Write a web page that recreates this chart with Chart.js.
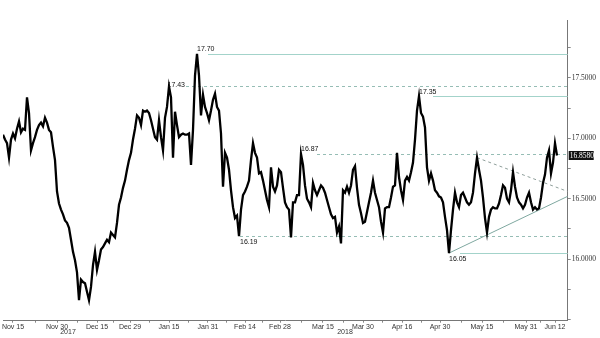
<!DOCTYPE html>
<html>
<head>
<meta charset="utf-8">
<script src="https://cdn.jsdelivr.net/npm/chart.js@4.4.1/dist/chart.umd.min.js"></script>
<style>
  html, body { margin: 0; padding: 0; background: #fff; }
  #wrap { width: 600px; height: 338px; }
</style>
</head>
<body>
<div id="wrap"><canvas id="chart"></canvas></div>
<script>
// one value every half session, Nov 10 2017 -> Jun 13 2018
const prices = [
  17.03, 16.99, 16.96, 16.84, 16.99, 17.04, 17.00, 17.08, 17.14, 17.05,
  17.08, 17.07, 17.34, 17.21, 16.90, 16.96, 17.01, 17.07, 17.11, 17.13,
  17.10, 17.17, 17.13, 17.07, 17.05, 16.93, 16.82, 16.56, 16.46, 16.41,
  16.37, 16.32, 16.30, 16.26, 16.16, 16.06, 15.99, 15.89, 15.66, 15.83,
  15.81, 15.80, 15.73, 15.66, 15.77, 15.95, 16.06, 15.91, 15.99, 16.08,
  16.10, 16.13, 16.16, 16.14, 16.22, 16.20, 16.18, 16.30, 16.45, 16.51,
  16.59, 16.65, 16.74, 16.82, 16.88, 16.99, 17.08, 17.19, 17.17, 17.11,
  17.23, 17.22, 17.23, 17.21, 17.15, 17.08, 17.01, 16.99, 17.15, 17.01,
  16.90, 17.17, 17.26, 17.43, 17.34, 16.84, 17.22, 17.11, 17.01, 17.03,
  17.04, 17.03, 17.03, 17.04, 16.78, 17.07, 17.52, 17.70, 17.52, 17.19,
  17.36, 17.26, 17.21, 17.15, 17.23, 17.32, 17.37, 17.26, 17.23, 17.04,
  16.60, 16.88, 16.84, 16.74, 16.57, 16.43, 16.34, 16.36, 16.19, 16.41,
  16.53, 16.56, 16.60, 16.65, 16.82, 16.96, 16.88, 16.84, 16.71, 16.72,
  16.65, 16.57, 16.49, 16.43, 16.76, 16.60, 16.56, 16.61, 16.74, 16.72,
  16.59, 16.47, 16.43, 16.41, 16.18, 16.47, 16.47, 16.53, 16.53, 16.87,
  16.78, 16.61, 16.50, 16.47, 16.43, 16.63, 16.57, 16.53, 16.57, 16.61,
  16.59, 16.55, 16.49, 16.43, 16.37, 16.34, 16.35, 16.22, 16.27, 16.13,
  16.57, 16.55, 16.60, 16.55, 16.61, 16.74, 16.77, 16.59, 16.45, 16.38,
  16.30, 16.31, 16.39, 16.47, 16.55, 16.65, 16.55, 16.49, 16.43, 16.31,
  16.22, 16.42, 16.43, 16.43, 16.51, 16.60, 16.61, 16.88, 16.68, 16.57,
  16.49, 16.65, 16.68, 16.65, 16.72, 16.80, 16.99, 17.23, 17.35, 17.21,
  17.18, 17.09, 16.76, 16.65, 16.71, 16.65, 16.57, 16.55, 16.52, 16.51,
  16.47, 16.35, 16.24, 16.05, 16.24, 16.41, 16.55, 16.47, 16.43, 16.53,
  16.55, 16.51, 16.47, 16.45, 16.47, 16.55, 16.71, 16.84, 16.74, 16.65,
  16.51, 16.34, 16.22, 16.35, 16.41, 16.43, 16.42, 16.42, 16.46, 16.53,
  16.61, 16.59, 16.50, 16.47, 16.57, 16.72, 16.60, 16.51, 16.47, 16.45,
  16.42, 16.45, 16.51, 16.55, 16.47, 16.41, 16.43, 16.41, 16.42, 16.51,
  16.63, 16.70, 16.84, 16.90, 16.71, 16.80, 16.96, 16.858
];

// x axis (half-session index)
const tickDays = [5, 27, 47, 63.5, 83, 102.5, 121, 138.5, 160, 180, 199.5, 218.5, 239.5, 261.5, 276];
const tickNames = ['Nov 15', 'Nov 30', 'Dec 15', 'Dec 29', 'Jan 15', 'Jan 31', 'Feb 14',
  'Feb 28', 'Mar 15', 'Mar 30', 'Apr 16', 'Apr 30', 'May 15', 'May 31', 'Jun 12'];
const yearNames = ['2017', '2018'];
const yearDays = [32.5, 171];

// horizontal levels
const levelValues = [17.70, 17.43, 17.35, 16.87, 16.19, 16.05];
const levelFrom = [102.5, 91.5, 215, 157, 118.5, 228.5];
const levelDashed = [false, true, false, true, true, false];
const levelLabelDay = [97, 91, 208, 149, 118.5, 223];
const levelLabelSide = ['above', 'left', 'above', 'above', 'below', 'below'];

// triangle
const supportLine = [[223, 16.05], [282.35, 16.52]];
const resistLine = [[237, 16.84], [282.35, 16.56]];

const xMax = 282.35;
const minorDays = tickDays.slice(1).map((d, k) => (d + tickDays[k]) / 2);
const allTicks = tickDays.concat(minorDays).sort((a, b) => a - b);

const overlay = {
  id: 'overlay',
  beforeDatasetsDraw(chart) {
    const { ctx, chartArea, scales: { x, y } } = chart;
    ctx.save();
    levelValues.forEach((v, k) => {
      const py = Math.round(y.getPixelForValue(v)) + 0.5;
      ctx.beginPath();
      ctx.lineWidth = 1;
      ctx.strokeStyle = levelDashed[k] ? '#96bdb5' : '#a3d3ca';
      ctx.setLineDash(levelDashed[k] ? [3, 3] : []);
      ctx.moveTo(x.getPixelForValue(levelFrom[k]), py);
      ctx.lineTo(chartArea.right, py);
      ctx.stroke();
    });
    ctx.restore();
  },
  afterDatasetsDraw(chart) {
    const { ctx, chartArea, scales: { x, y } } = chart;
    ctx.save();
    ctx.font = '7px "Liberation Sans"';
    ctx.fillStyle = '#111';
    levelValues.forEach((v, k) => {
      const px = x.getPixelForValue(levelLabelDay[k]);
      const py = y.getPixelForValue(v);
      const side = levelLabelSide[k];
      if (side === 'left') {
        ctx.textAlign = 'right';
        ctx.textBaseline = 'middle';
        ctx.fillText(v.toFixed(2), px, py - 1);
      } else if (side === 'above') {
        ctx.textAlign = 'left';
        ctx.textBaseline = 'bottom';
        ctx.fillText(v.toFixed(2), px, py - 1);
      } else {
        ctx.textAlign = 'left';
        ctx.textBaseline = 'top';
        ctx.fillText(v.toFixed(2), px, py + 2);
      }
    });

    // years under the date axis
    ctx.textAlign = 'center';
    ctx.textBaseline = 'middle';
    ctx.fillStyle = '#333';
    yearNames.forEach((n, k) => {
      ctx.fillText(n, x.getPixelForValue(yearDays[k]), chartArea.bottom + 11.5);
    });

    // last price box
    const last = prices[prices.length - 1];
    const ly = y.getPixelForValue(last);
    ctx.fillStyle = '#111';
    ctx.fillRect(chartArea.right + 1, ly - 4.5, 25, 9);
    ctx.fillStyle = '#fff';
    ctx.font = '7.5px "Liberation Serif"';
    ctx.textAlign = 'left';
    ctx.fillText(last.toFixed(4), chartArea.right + 2, ly + 0.5);
    ctx.restore();
  }
};

new Chart(document.getElementById('chart'), {
  type: 'line',
  data: {
    datasets: [
      {
        data: prices.map((v, i) => ({ x: i, y: v })),
        borderColor: '#000',
        borderWidth: 2.3,
        borderJoinStyle: 'miter',
        pointRadius: 0,
        tension: 0
      },
      {
        data: supportLine.map(p => ({ x: p[0], y: p[1] })),
        borderColor: '#7fa8a0',
        borderWidth: 1,
        pointRadius: 0
      },
      {
        data: resistLine.map(p => ({ x: p[0], y: p[1] })),
        borderColor: '#8f9f9b',
        borderWidth: 1,
        borderDash: [3, 3],
        pointRadius: 0
      }
    ]
  },
  options: {
    responsive: true,
    maintainAspectRatio: false,
    animation: false,
    layout: { padding: { top: 20, left: 3, right: 0, bottom: 0 } },
    plugins: { legend: { display: false }, tooltip: { enabled: false } },
    scales: {
      x: {
        type: 'linear',
        min: 0,
        max: xMax,
        afterBuildTicks: scale => { scale.ticks = allTicks.map(v => ({ value: v })); },
        afterFit: scale => { scale.height = 17.3; },
        grid: { drawOnChartArea: false, drawTicks: true, tickLength: 2, color: '#888' },
        border: { display: true, color: '#777' },
        ticks: {
          autoSkip: false,
          maxRotation: 0,
          padding: 0,
          color: '#333',
          font: { family: 'Liberation Sans', size: 7 },
          callback: value => {
            const k = tickDays.indexOf(value);
            return k >= 0 ? tickNames[k] : '';
          }
        }
      },
      y: {
        position: 'right',
        min: 15.49,
        max: 17.98,
        afterFit: scale => { scale.width = 32.3; },
        grid: { drawOnChartArea: false, drawTicks: true, tickLength: 3, color: '#888' },
        border: { display: true, color: '#777' },
        ticks: {
          stepSize: 0.25,
          includeBounds: false,
          autoSkip: false,
          padding: 1,
          color: '#333',
          font: { family: 'Liberation Serif', size: 7.5 },
          callback: v => (v > 15.75 && Math.abs(v * 2 - Math.round(v * 2)) < 1e-6 ? v.toFixed(4) : '')
        }
      }
    }
  },
  plugins: [overlay]
});
</script>
</body>
</html>
